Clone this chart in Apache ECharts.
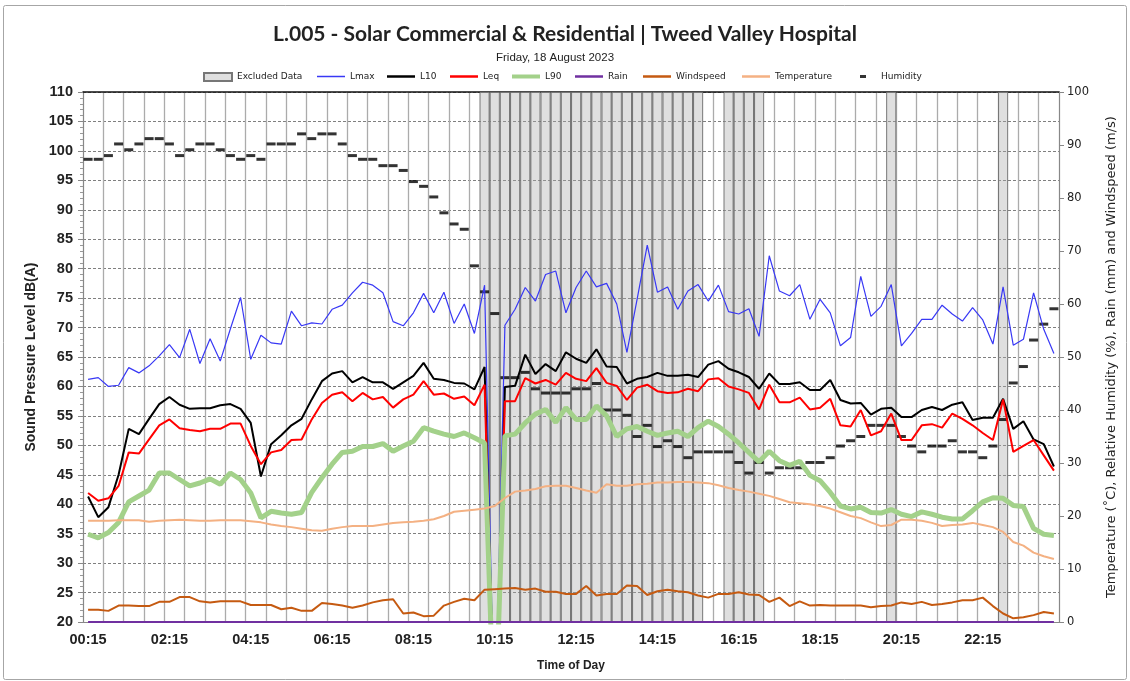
<!DOCTYPE html>
<html>
<head>
<meta charset="utf-8">
<title>L.005 - Tweed Valley Hospital</title>
<script src="https://cdn.jsdelivr.net/npm/echarts@6.0.0/dist/echarts.min.js"></script>
<style>
  html, body { margin: 0; padding: 0; background: #fff; }
  #main { width: 1130px; height: 681px; }
</style>
</head>
<body>
<div id="main"></div>
<script>
// 15 minute intervals, Friday 18 August 2023
const times = [
  '00:15', '00:30', '00:45', '01:00', '01:15', '01:30', '01:45', '02:00',
  '02:15', '02:30', '02:45', '03:00', '03:15', '03:30', '03:45', '04:00',
  '04:15', '04:30', '04:45', '05:00', '05:15', '05:30', '05:45', '06:00',
  '06:15', '06:30', '06:45', '07:00', '07:15', '07:30', '07:45', '08:00',
  '08:15', '08:30', '08:45', '09:00', '09:15', '09:30', '09:45', '10:00',
  '10:15', '10:30', '10:45', '11:00', '11:15', '11:30', '11:45', '12:00',
  '12:15', '12:30', '12:45', '13:00', '13:15', '13:30', '13:45', '14:00',
  '14:15', '14:30', '14:45', '15:00', '15:15', '15:30', '15:45', '16:00',
  '16:15', '16:30', '16:45', '17:00', '17:15', '17:30', '17:45', '18:00',
  '18:15', '18:30', '18:45', '19:00', '19:15', '19:30', '19:45', '20:00',
  '20:15', '20:30', '20:45', '21:00', '21:15', '21:30', '21:45', '22:00',
  '22:15', '22:30', '22:45', '23:00', '23:15', '23:30', '23:45', '00:00'
];

// 1 = interval excluded
const excluded = [
  0, 0, 0, 0, 0, 0, 0, 0,
  0, 0, 0, 0, 0, 0, 0, 0,
  0, 0, 0, 0, 0, 0, 0, 0,
  0, 0, 0, 0, 0, 0, 0, 0,
  0, 0, 0, 0, 0, 0, 0, 1,
  1, 1, 1, 1, 1, 1, 1, 1,
  1, 1, 1, 1, 1, 1, 1, 1,
  1, 1, 1, 1, 1, 0, 0, 1,
  1, 1, 1, 0, 0, 0, 0, 0,
  0, 0, 0, 0, 0, 0, 0, 1,
  0, 0, 0, 0, 0, 0, 0, 0,
  0, 0, 1, 0, 0, 0, 0, 0
];

// dB(A)
const lmax = [
  61.2, 61.5, 60.0, 60.2, 63.2, 62.3, 63.5, 65.2,
  67.1, 64.9, 69.7, 63.9, 68.1, 64.3, 69.8, 75.1,
  64.6, 68.7, 67.4, 67.2, 72.8, 70.3, 70.8, 70.6,
  73.1, 73.8, 75.9, 77.7, 77.2, 75.9, 71.0, 70.3,
  72.5, 75.8, 72.5, 76.0, 70.7, 74.0, 69.0, 77.2,
  0, 70.4, 73.1, 76.8, 74.5, 79.0, 79.6, 72.5,
  76.8, 79.6, 76.9, 77.5, 74.0, 65.8, 74.8, 84.0,
  76.0, 76.9, 73.1, 76.2, 77.3, 74.5, 77.2, 72.7,
  72.3, 73.2, 68.5, 82.2, 76.2, 75.4, 77.3, 71.4,
  74.8, 72.5, 66.9, 68.3, 78.7, 71.9, 73.6, 77.3,
  66.9, 69.0, 71.4, 71.4, 73.8, 72.3, 71.1, 73.4,
  71.3, 67.2, 76.9, 67.0, 68.0, 75.9, 69.7, 65.6
];
const l10 = [
  41.3, 37.8, 39.5, 45.0, 52.8, 51.9, 54.5, 57.0,
  58.2, 56.9, 56.2, 56.3, 56.3, 56.8, 57.0, 56.2,
  53.8, 44.7, 50.2, 51.7, 53.4, 54.5, 57.8, 60.9,
  62.2, 62.6, 60.7, 61.6, 60.7, 60.7, 59.6, 60.7,
  61.8, 64.0, 61.3, 61.1, 60.6, 60.5, 59.5, 63.3,
  0, 59.9, 60.1, 65.4, 62.1, 63.8, 62.6, 65.8,
  64.7, 64.0, 66.3, 63.4, 63.3, 60.5, 61.3, 61.6,
  62.3, 61.8, 61.8, 62.0, 61.6, 63.7, 64.3, 63.0,
  62.4, 61.6, 59.6, 62.2, 60.4, 60.4, 60.7, 59.4,
  59.4, 61.1, 57.7, 57.1, 57.2, 55.2, 56.2, 56.4,
  54.8, 54.8, 56.0, 56.5, 56.0, 56.9, 57.3, 54.3,
  54.7, 54.7, 57.9, 52.8, 54.1, 51.0, 50.2, 46.4
];
const leq = [
  41.9, 40.6, 41.0, 43.1, 48.8, 48.6, 51.0, 53.4,
  54.4, 52.9, 52.6, 52.4, 52.8, 52.8, 53.7, 53.7,
  49.9, 46.8, 48.8, 49.2, 50.9, 51.0, 54.4, 57.2,
  58.6, 59.0, 57.5, 58.9, 57.8, 58.2, 56.4, 57.8,
  58.6, 60.9, 58.6, 58.8, 57.9, 58.3, 56.8, 60.3,
  0, 57.5, 57.5, 61.4, 60.5, 61.1, 60.3, 62.3,
  61.3, 60.9, 63.1, 60.6, 60.1, 57.7, 59.8, 60.3,
  59.2, 58.9, 59.0, 59.6, 59.2, 61.2, 61.4, 60.0,
  59.5, 58.9, 56.1, 60.3, 57.3, 57.3, 58.1, 56.1,
  56.4, 57.9, 53.4, 53.2, 56.0, 51.7, 52.4, 55.4,
  50.9, 50.9, 53.4, 53.6, 53.0, 55.4, 54.5, 53.4,
  52.1, 50.9, 57.8, 48.9, 49.9, 50.9, 48.3, 45.7
];
const l90 = [
  34.9, 34.3, 35.2, 36.9, 40.4, 41.4, 42.4, 45.3,
  45.3, 44.2, 43.1, 43.6, 44.3, 43.4, 45.3, 44.2,
  41.9, 37.7, 38.8, 38.5, 38.3, 38.6, 42.0, 44.5,
  46.8, 48.8, 49.0, 49.8, 49.8, 50.3, 49.0, 49.9,
  50.7, 53.0, 52.4, 51.9, 51.5, 52.1, 51.3, 50.4,
  0, 51.6, 51.9, 53.8, 55.3, 56.1, 53.9, 56.4,
  54.4, 54.4, 56.7, 55.0, 51.5, 52.8, 53.2, 52.4,
  51.7, 52.1, 52.4, 51.5, 53.0, 54.1, 53.2, 51.9,
  50.4, 48.8, 47.2, 49.0, 47.4, 46.6, 47.3, 44.9,
  44.0, 42.0, 39.7, 39.2, 39.5, 38.6, 38.5, 39.1,
  38.3, 37.9, 38.7, 38.3, 37.8, 37.5, 37.5, 38.9,
  40.4, 41.1, 41.0, 39.8, 39.6, 35.9, 34.9, 34.7
];

// mm
const rain = [
  0, 0, 0, 0, 0, 0, 0, 0, 0, 0, 0, 0, 0, 0, 0, 0,
  0, 0, 0, 0, 0, 0, 0, 0, 0, 0, 0, 0, 0, 0, 0, 0,
  0, 0, 0, 0, 0, 0, 0, 0, 0, 0, 0, 0, 0, 0, 0, 0,
  0, 0, 0, 0, 0, 0, 0, 0, 0, 0, 0, 0, 0, 0, 0, 0,
  0, 0, 0, 0, 0, 0, 0, 0, 0, 0, 0, 0, 0, 0, 0, 0,
  0, 0, 0, 0, 0, 0, 0, 0, 0, 0, 0, 0, 0, 0, 0, 0
];
// m/s
const windspeed = [
  2.3, 2.3, 2.1, 3.1, 3.1, 3.0, 3.0, 3.8,
  3.8, 4.7, 4.7, 3.9, 3.7, 3.9, 3.9, 3.9,
  3.2, 3.2, 3.2, 2.4, 2.7, 2.1, 2.1, 3.6,
  3.4, 3.1, 2.7, 3.1, 3.7, 4.1, 4.3, 1.6,
  1.8, 1.1, 1.2, 3.1, 3.8, 4.4, 4.1, 6.1,
  6.2, 6.3, 6.4, 6.1, 6.3, 5.7, 5.7, 5.3,
  5.3, 6.8, 5.0, 5.3, 5.3, 6.9, 6.8, 5.1,
  5.8, 6.1, 5.8, 5.6, 5.0, 4.6, 5.3, 5.3,
  5.6, 5.2, 5.1, 3.8, 4.6, 3.0, 3.9, 3.1,
  3.2, 3.1, 3.1, 3.1, 3.1, 2.8, 3.0, 3.1,
  3.7, 3.4, 3.8, 3.2, 3.4, 3.7, 4.1, 4.1,
  4.6, 3.0, 1.6, 0.7, 0.9, 1.3, 1.9, 1.6
];
// deg C
const temperature = [
  19.1, 19.1, 19.1, 19.2, 19.2, 19.2, 18.9, 19.1,
  19.2, 19.3, 19.2, 19.1, 19.1, 19.2, 19.2, 19.2,
  19.0, 18.8, 18.4, 18.1, 17.9, 17.6, 17.3, 17.2,
  17.6, 17.9, 18.1, 18.1, 18.1, 18.4, 18.7, 18.8,
  18.9, 19.1, 19.4, 20.0, 20.8, 21.0, 21.2, 21.4,
  21.9, 23.4, 24.6, 24.8, 25.1, 25.6, 25.7, 25.7,
  25.3, 24.8, 24.4, 26.0, 25.7, 25.7, 26.0, 26.1,
  26.3, 26.3, 26.4, 26.4, 26.3, 26.2, 25.8, 25.3,
  24.9, 24.6, 24.2, 23.8, 23.2, 22.6, 22.4, 22.2,
  21.9, 21.4, 20.7, 20.0, 19.6, 18.8, 18.1, 18.3,
  19.3, 19.3, 19.1, 18.7, 18.1, 18.3, 18.4, 18.7,
  18.3, 17.9, 17.0, 15.1, 14.4, 13.1, 12.4, 11.9
];
// %
const humidity = [
  87.3, 87.3, 88.0, 90.2, 89.1, 90.2, 91.2, 91.2,
  90.2, 88.0, 89.1, 90.2, 90.2, 89.1, 88.0, 87.3,
  88.0, 87.3, 90.2, 90.2, 90.2, 92.1, 91.2, 92.1,
  92.1, 90.2, 88.0, 87.3, 87.3, 86.1, 86.1, 85.2,
  83.1, 82.2, 80.2, 77.2, 75.1, 74.1, 67.2, 62.3,
  58.2, 46.1, 46.1, 47.1, 44.0, 43.2, 43.2, 43.2,
  44.0, 44.0, 45.0, 40.0, 40.0, 39.0, 35.0, 37.1,
  33.1, 34.2, 33.1, 31.0, 32.1, 32.1, 32.1, 32.1,
  30.1, 28.1, 30.1, 28.1, 29.1, 29.1, 29.1, 30.1,
  30.1, 31.0, 33.2, 34.2, 35.0, 37.1, 37.1, 37.1,
  35.0, 33.2, 32.1, 33.2, 33.2, 34.2, 32.1, 32.1,
  31.0, 33.2, 38.2, 45.1, 48.2, 53.2, 56.2, 59.1
];

const LEFT_MAX = 110;
const textColor = '#222';

function lineSeries(name, data, color, width, axis) {
  return {
    name: name,
    type: 'line',
    data: data,
    yAxisIndex: axis,
    symbol: 'none',
    lineStyle: { color: color, width: width },
    itemStyle: { color: color },
    silent: true
  };
}

// one legend per entry so each sits where the original put it
function legendAt(name, left, icon, w, h, extra) {
  return Object.assign({
    data: [{ name: name, icon: icon }],
    left: left,
    top: 72,
    padding: 0,
    itemWidth: w,
    itemHeight: h,
    selectedMode: false,
    textStyle: { fontFamily: 'DejaVu Sans', fontSize: 9, color: textColor }
  }, extra || {});
}

const chart = echarts.init(document.getElementById('main'), null, { renderer: 'canvas' });

const option = {
  animation: false,
  backgroundColor: '#fff',
  title: [{
    text: 'L.005 - Solar Commercial & Residential | Tweed Valley Hospital',
    left: 'center',
    top: 19,
    textStyle: { fontFamily: 'Lato', fontWeight: 'bold', fontSize: 21, color: textColor }
  }, {
    text: 'Friday, 18 August 2023',
    left: 491,
    top: 47,
    textStyle: { fontFamily: 'Liberation Sans', fontWeight: 'normal', fontSize: 11.5, color: textColor }
  }],
  legend: [
    legendAt('Excluded Data', 203, 'rect', 28, 8),
    legendAt('Lmax', 317, 'rect', 28, 1.5),
    legendAt('L10', 387, 'rect', 28, 2.5),
    legendAt('Leq', 450, 'rect', 28, 2.5),
    legendAt('L90', 512, 'rect', 28, 4),
    legendAt('Rain', 575, 'rect', 28, 2.5),
    legendAt('Windspeed', 643, 'rect', 28, 2.5),
    legendAt('Temperature', 742, 'rect', 28, 2.5),
    legendAt('Humidity', 860, 'rect', 6, 3, {
      textStyle: { fontFamily: 'DejaVu Sans', fontSize: 9, color: textColor, padding: [0, 0, 0, 10] }
    })
  ],
  graphic: [{
    type: 'rect',
    silent: true,
    shape: { x: 3.5, y: 5.5, width: 1123, height: 674, r: 2 },
    style: { fill: null, stroke: '#a6a6a6', lineWidth: 1 }
  }],
  grid: { left: 83, right: 71, top: 92, bottom: 59 },
  xAxis: [{
    type: 'category',
    data: times,
    boundaryGap: true,
    name: 'Time of Day',
    nameLocation: 'middle',
    nameGap: 38,
    nameTextStyle: { fontFamily: 'Liberation Sans', fontWeight: 'bold', fontSize: 12, color: textColor },
    axisLine: { lineStyle: { color: '#888' } },
    axisTick: { interval: 1, length: 4, lineStyle: { color: '#888' } },
    axisLabel: { interval: 7, margin: 10, fontFamily: 'Liberation Sans', fontWeight: 'bold', fontSize: 14.5, color: textColor },
    splitLine: { show: true, interval: 1, lineStyle: { color: '#ababab', width: 1.3 } }
  }, {
    type: 'category',
    data: times,
    position: 'top',
    axisLine: { lineStyle: { color: '#111', width: 1.5 } },
    axisTick: { show: false },
    axisLabel: { show: false },
    splitLine: { show: false }
  }],
  yAxis: [{
    type: 'value',
    min: 20,
    max: LEFT_MAX,
    interval: 5,
    position: 'left',
    name: 'Sound Pressure Level dB(A)',
    nameLocation: 'middle',
    nameGap: 44,
    nameRotate: 90,
    nameTextStyle: { fontFamily: 'Liberation Sans', fontWeight: 'bold', fontSize: 14, color: textColor },
    axisLine: { show: true, lineStyle: { color: '#888' } },
    axisTick: { show: true, length: 5, lineStyle: { color: '#888' } },
    minorTick: { show: true, splitNumber: 5, length: 3, lineStyle: { color: '#999' } },
    axisLabel: { margin: 10, fontFamily: 'Liberation Sans', fontWeight: 'bold', fontSize: 14.5, color: textColor },
    splitLine: { show: true, lineStyle: { color: '#7f7f7f', type: [3, 2], width: 1 } }
  }, {
    type: 'value',
    min: 0,
    max: 100,
    interval: 10,
    position: 'right',
    name: 'Temperature (˚C), Relative Humidity (%), Rain (mm) and Windspeed (m/s)',
    nameLocation: 'middle',
    nameGap: 46,
    nameRotate: 90,
    nameTextStyle: { fontFamily: 'DejaVu Sans', fontSize: 13, color: textColor },
    axisLine: { show: true, lineStyle: { color: '#888' } },
    axisTick: { show: true, length: 5, lineStyle: { color: '#888' } },
    axisLabel: { margin: 8, fontFamily: 'DejaVu Sans', fontSize: 11.5, color: textColor },
    splitLine: { show: false }
  }],
  series: [
    {
      name: 'Excluded Data',
      type: 'bar',
      data: excluded.map(function (f) { return f ? LEFT_MAX : '-'; }),
      yAxisIndex: 0,
      barWidth: '100%',
      silent: true,
      itemStyle: { color: 'rgba(170,170,170,0.38)', borderColor: '#777', borderWidth: 1 }
    },
    lineSeries('Lmax', lmax, '#3838f5', 1.2, 0),
    lineSeries('L10', l10, '#000000', 2, 0),
    lineSeries('Leq', leq, '#ff0000', 2, 0),
    lineSeries('L90', l90, '#a3d18a', 5, 0),
    lineSeries('Rain', rain, '#7030a0', 2, 1),
    lineSeries('Windspeed', windspeed, '#c55a11', 2, 1),
    lineSeries('Temperature', temperature, '#f4b183', 2, 1),
    {
      name: 'Humidity',
      type: 'scatter',
      data: humidity,
      yAxisIndex: 1,
      symbol: 'rect',
      symbolSize: [9, 3],
      silent: true,
      itemStyle: { color: '#000' }
    }
  ]
};

chart.setOption(option);
</script>
</body>
</html>
